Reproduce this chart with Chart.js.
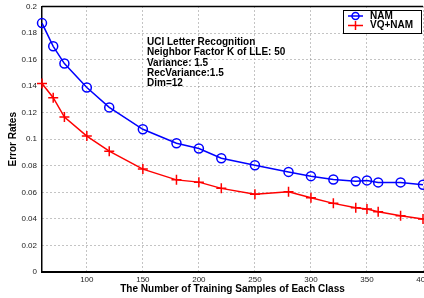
<!DOCTYPE html>
<html>
<head>
<meta charset="utf-8">
<script src="https://cdn.jsdelivr.net/npm/chart.js@4/dist/chart.umd.min.js"></script>
<style>
  html, body { margin: 0; padding: 0; background: #fff; overflow: hidden; }
  #wrap { width: 424px; height: 298px; overflow: hidden; }
</style>
</head>
<body>
<div id="wrap"><canvas id="chart" width="432" height="298"></canvas></div>
<script>
// training samples per class
const samples = [60, 70, 80, 100, 120, 150, 180, 200, 220, 250, 280, 300, 320, 340, 350, 360, 380, 400];
const namErr = [0.1875, 0.170, 0.157, 0.139, 0.124, 0.1075, 0.097, 0.093, 0.0857, 0.0804, 0.0754, 0.0722, 0.0697, 0.0684, 0.069, 0.0675, 0.0675, 0.0657];
const vqNamErr = [0.142, 0.1313, 0.1167, 0.1024, 0.091, 0.0775, 0.0694, 0.0677, 0.063, 0.0585, 0.0605, 0.056, 0.0517, 0.0484, 0.0474, 0.0454, 0.0424, 0.0399];
const xTicks = [100, 150, 200, 250, 300, 350, 400];
const yTicks = [0, 0.02, 0.04, 0.06, 0.08, 0.1, 0.12, 0.14, 0.16, 0.18, 0.2];
const infoLines = [
  'UCI Letter Recognition',
  'Neighbor Factor K of LLE: 50',
  'Variance: 1.5',
  'RecVariance:1.5',
  'Dim=12'
];

const FONT = '"Liberation Sans", Arial, Helvetica, sans-serif';

const extras = {
  id: 'extras',
  afterDraw(chart) {
    const ctx = chart.ctx;
    const a = chart.chartArea;
    ctx.save();
    // top frame line
    ctx.strokeStyle = '#000';
    ctx.lineWidth = 1.5;
    ctx.beginPath();
    ctx.moveTo(a.left, a.top);
    ctx.lineTo(a.right, a.top);
    ctx.stroke();

    // annotation text
    ctx.fillStyle = '#000';
    ctx.font = 'bold 10px ' + FONT;
    ctx.textBaseline = 'middle';
    ctx.textAlign = 'left';
    infoLines.forEach((t, i) => ctx.fillText(t, 147, 42 + i * 10.4));

    // legend box
    const bx = 343, by = 10, bw = 78, bh = 23;
    ctx.fillStyle = '#fff';
    ctx.fillRect(bx, by, bw, bh);
    ctx.strokeStyle = '#000';
    ctx.lineWidth = 1;
    ctx.strokeRect(bx + 0.5, by + 0.5, bw, bh);
    chart.data.datasets.forEach((ds, i) => {
      const y = by + 6 + i * 9.5;
      ctx.strokeStyle = ds.borderColor;
      ctx.lineWidth = 1.5;
      ctx.beginPath();
      ctx.moveTo(bx + 5, y);
      ctx.lineTo(bx + 20, y);
      ctx.stroke();
      const cx = bx + 12.5;
      ctx.beginPath();
      if (ds.pointStyle === 'circle') {
        ctx.arc(cx, y, 3.5, 0, Math.PI * 2);
      } else {
        ctx.moveTo(cx, y - 4.5);
        ctx.lineTo(cx, y + 4.5);
      }
      ctx.stroke();
      ctx.fillStyle = '#000';
      ctx.font = 'bold 10px ' + FONT;
      ctx.fillText(ds.label, bx + 27, y);
    });
    ctx.restore();
  }
};

new Chart(document.getElementById('chart'), {
  type: 'line',
  data: {
    labels: samples,
    datasets: [
      {
        label: 'NAM',
        data: samples.map((x, i) => ({ x: x, y: namErr[i] })),
        borderColor: '#0000ff',
        backgroundColor: 'rgba(0,0,0,0)',
        borderWidth: 1.5,
        pointStyle: 'circle',
        pointRadius: 4.5,
        pointBorderWidth: 1.5,
        pointBackgroundColor: 'rgba(0,0,0,0)',
        tension: 0
      },
      {
        label: 'VQ+NAM',
        data: samples.map((x, i) => ({ x: x, y: vqNamErr[i] })),
        borderColor: '#ff0000',
        backgroundColor: 'rgba(0,0,0,0)',
        borderWidth: 1.5,
        pointStyle: 'cross',
        pointRadius: 5,
        pointBorderWidth: 1.5,
        tension: 0
      }
    ]
  },
  options: {
    responsive: false,
    animation: false,
    clip: false,
    layout: { padding: { top: 5, right: 9, left: 0, bottom: 0 } },
    plugins: { legend: { display: false }, tooltip: { enabled: false } },
    scales: {
      x: {
        type: 'linear',
        min: 60,
        max: 400,
        afterBuildTicks: s => { s.ticks = xTicks.map(v => ({ value: v })); },
        afterFit: s => { s.height = 26; s.paddingLeft = 0; s.paddingRight = 0; },
        grid: { color: '#888', lineWidth: 1, drawTicks: false },
        border: { display: true, color: '#000', width: 2, dash: [1, 3] },
        ticks: { padding: 3, color: '#222', font: { family: FONT, size: 8 }, maxRotation: 0, autoSkip: false },
        title: {
          display: true,
          text: 'The Number of Training Samples of Each Class',
          color: '#000',
          font: { family: FONT, size: 10, weight: 'bold' },
          padding: { top: 0, bottom: 3 }
        }
      },
      y: {
        min: 0,
        max: 0.2,
        afterBuildTicks: s => { s.ticks = yTicks.map(v => ({ value: v })); },
        afterFit: s => { s.width = 42; s.paddingTop = 0; s.paddingBottom = 0; },
        grid: { color: '#888', lineWidth: 1, drawTicks: false },
        border: { display: true, color: '#000', width: 1.5, dash: [1, 3] },
        ticks: {
          padding: 5,
          color: '#222',
          font: { family: FONT, size: 8 },
          callback: v => String(parseFloat(v.toFixed(2)))
        },
        title: {
          display: true,
          text: 'Error Rates',
          color: '#000',
          font: { family: FONT, size: 10, weight: 'bold' },
          padding: { top: 7, bottom: 0 }
        }
      }
    }
  },
  plugins: [extras]
});
</script>
</body>
</html>
